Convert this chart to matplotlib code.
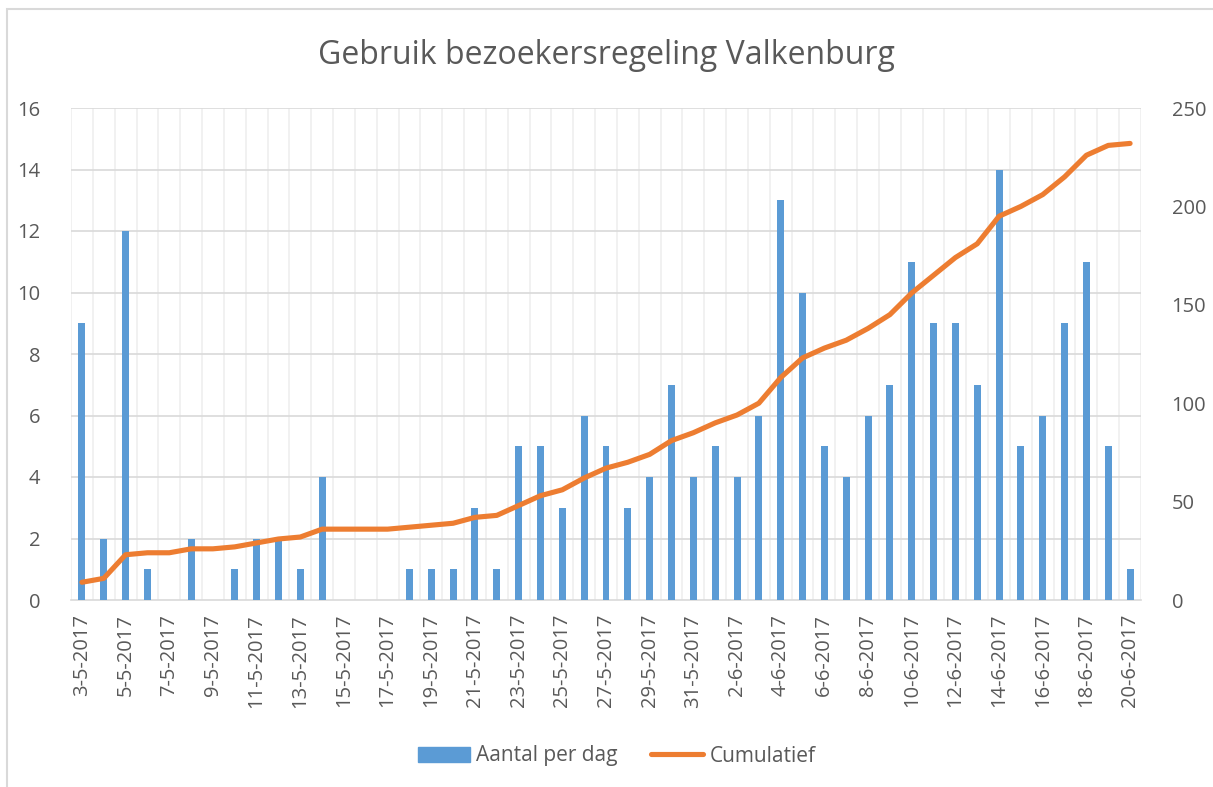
import pandas as pd
import matplotlib
matplotlib.use("Agg")
import matplotlib.pyplot as plt
from matplotlib.patches import Patch, Rectangle
from matplotlib.lines import Line2D

plt.rcParams['font.family'] = ['Open Sans', 'DejaVu Sans']

dates = pd.date_range("2017-05-03", "2017-06-20", freq="D")
labels = [f"{d.day}-{d.month}-{d.year}" for d in dates]

per_day = [9, 2, 12, 1, 0, 2, 0, 1, 2, 2, 1, 4, 0, 0, 0, 1, 1, 1, 3, 1,
           5, 5, 3, 6, 5, 3, 4, 7, 4, 5, 4, 6, 13, 10, 5, 4, 6, 7, 11, 9,
           9, 7, 14, 5, 6, 9, 11, 5, 1]
cumulative = [9, 11, 23, 24, 24, 26, 26, 27, 29, 31, 32, 36, 36, 36, 36, 37,
              38, 39, 42, 43, 48, 53, 56, 62, 67, 70, 74, 81, 85, 90, 94, 100,
              113, 123, 128, 132, 138, 145, 156, 165, 174, 181, 195, 200, 206,
              215, 226, 231, 232]

blue = "#5B9BD5"
orange = "#ED7D31"
txt = "#595959"

W, H = 1213, 787
fig = plt.figure(figsize=(W / 100, H / 100), dpi=100)
ax = fig.add_axes([71 / W, 1 - 600 / H, (1141 - 71) / W, (600 - 108) / H])
ax2 = ax.twinx()

x = range(len(labels))
ax.bar(x, per_day, width=0.32, color=blue, zorder=3)
ax2.plot(x, cumulative, color=orange, lw=3.7, solid_capstyle='round',
         solid_joinstyle='round', zorder=4)

ax.set_xlim(-0.5, len(labels) - 0.5)
ax.set_ylim(0, 16)
ax.set_yticks(range(0, 17, 2))
ax2.set_ylim(0, 250)
ax2.set_yticks(range(0, 251, 50))

# gridlines
for y in range(2, 17, 2):
    ax.axhline(y, color="#d9d9d9", lw=1.2, zorder=1)
for k in range(len(labels) + 1):
    ax.axvline(k - 0.5, color="#efefef", lw=1.2, zorder=0)

ax.set_xticks(list(x)[::2])
ax.set_xticklabels(labels[::2], rotation=90)
for a in (ax, ax2):
    for s in a.spines.values():
        s.set_visible(False)
    a.tick_params(length=0, colors=txt, labelsize=14.5)
ax.spines['bottom'].set_visible(True)
ax.spines['bottom'].set_color("#d9d9d9")
ax.spines['bottom'].set_linewidth(1.2)
ax.tick_params(axis='x', pad=10)
ax.tick_params(axis='y', pad=22)
ax2.tick_params(axis='y', pad=22)
ax2.set_zorder(ax.get_zorder() + 1)
ax2.patch.set_visible(False)

fig.text(0.5, 1 - 55 / H, "Gebruik bezoekersregeling Valkenburg",
         ha='center', va='center', fontsize=23, color=txt)

handles = [Patch(color=blue), Line2D([], [], color=orange, lw=3.7, solid_capstyle='round')]
fig.legend(handles, ["Aantal per dag", "Cumulatief"], loc='center',
           bbox_to_anchor=(0.5 + 10 / W, 1 - 756 / H), ncol=2, frameon=False,
           fontsize=15, labelcolor=txt, handlelength=2.5, handletextpad=0.3,
           columnspacing=1.6)

fig.patches.append(Rectangle((6.5 / W, -0.01), 1.01, 1 - 8.5 / H + 0.01,
                             transform=fig.transFigure, fill=False,
                             edgecolor="#d9d9d9", lw=1.5))

fig.savefig("out.png", dpi=100)
